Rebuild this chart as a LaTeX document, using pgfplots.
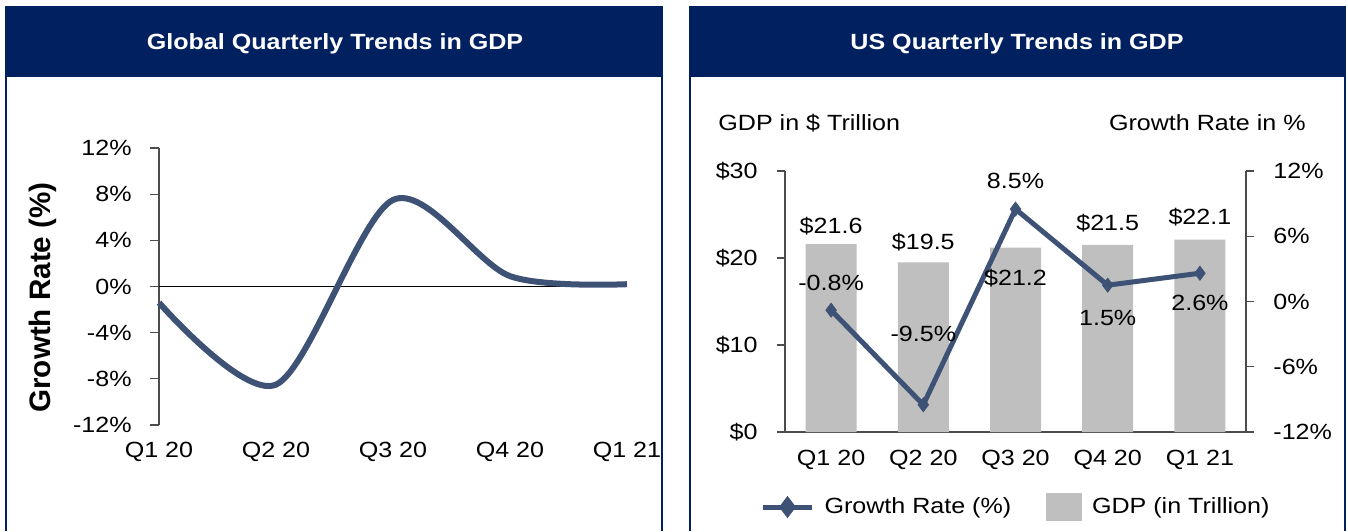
\documentclass[border=0pt]{standalone}
\usepackage{fontspec}
\setmainfont{Liberation Sans}[FakeStretch=1.14]
\newfontfamily\lblfont{Liberation Sans}
\usepackage{pgfplots}
\pgfplotsset{compat=1.18}
\definecolor{navy}{RGB}{0,32,96}
\definecolor{slate}{RGB}{62,82,118}
\definecolor{barg}{RGB}{191,191,191}
\newcommand\fs{\fontsize{11pt}{13pt}\selectfont}

\begin{document}
\begin{tikzpicture}
\useasboundingbox (0,0) rectangle (674pt,265.5pt);
% panel frames
\fill[navy] (2.6pt,227pt) rectangle (331.6pt,262.5pt);
\draw[navy, line width=0.9pt] (3.1pt,227pt) -- (3.1pt,0pt);
\draw[navy, line width=0.9pt] (331.1pt,227pt) -- (331.1pt,0pt);
\fill[navy] (344.4pt,227pt) rectangle (672.8pt,262.5pt);
\draw[navy, line width=0.9pt] (344.9pt,227pt) -- (344.9pt,0pt);
\draw[navy, line width=0.9pt] (672.3pt,227pt) -- (672.3pt,0pt);
\node[white, font=\fs\bfseries, anchor=base, inner sep=0pt] at (167.5pt,240.5pt) {Global Quarterly Trends in GDP};
\node[white, font=\fs\bfseries, anchor=base, inner sep=0pt] at (508.5pt,240.5pt) {US Quarterly Trends in GDP};
\node[font=\fs, anchor=base west, inner sep=0pt] at (359pt,200pt) {GDP in \$ Trillion};
\node[font=\fs, anchor=base east, inner sep=0pt] at (653pt,200pt) {Growth Rate in \%};
\node[rotate=90, font=\lblfont\bfseries\fontsize{14.8pt}{16pt}\selectfont, inner sep=0pt] at (21.5pt,116.75pt) {Growth Rate (\%)};

% ---------- left chart ----------
\begin{axis}[
  at={(79.5pt,53pt)}, anchor=south west, scale only axis,
  width=234pt, height=138.5pt,
  xmin=0, xmax=4, ymin=-12, ymax=12, clip=false,
  axis x line*=bottom, axis y line*=left,
  axis line style={-, black!70, line width=0.6pt},
  x axis line style={draw=none},
  xtick={0,1,2,3,4}, xticklabels={Q1 20,Q2 20,Q3 20,Q4 20,Q1 21},
  ytick={-12,-8,-4,0,4,8,12},
  yticklabels={-12\%,-8\%,-4\%,0\%,4\%,8\%,12\%},
  tick align=outside, major tick length=4.5pt,
  tick style={black!70, line width=0.6pt},
  x tick style={draw=none},
  ticklabel style={font=\fs},
  yticklabel style={anchor=east, inner sep=0pt, xshift=-9pt},
  xticklabel style={anchor=north, inner sep=0pt, yshift=-4pt},
]
\draw[black, line width=0.5pt] (axis cs:0,0) -- (axis cs:4,0);
\addplot[slate, line width=3pt, smooth] coordinates {
  (0,-1.4) (1,-8.5) (2,7.5) (3,0.9) (4,0.2)
};
\end{axis}

% ---------- right chart: bars ----------
\begin{axis}[
  at={(392.5pt,49.5pt)}, anchor=south west, scale only axis,
  width=230.5pt, height=130.5pt,
  xmin=-0.5, xmax=4.5, ymin=0, ymax=30, clip=false,
  axis x line*=bottom, axis y line*=left,
  axis line style={-, black!70, line width=0.6pt},
  xtick={0,1,2,3,4}, xticklabels={Q1 20,Q2 20,Q3 20,Q4 20,Q1 21},
  ytick={0,10,20,30}, yticklabels={\$0,\$10,\$20,\$30},
  tick align=outside, major tick length=4pt,
  tick style={black!70, line width=0.6pt},
  x tick style={draw=none},
  ticklabel style={font=\fs},
  yticklabel style={anchor=east, inner sep=0pt, xshift=-9.5pt},
  xticklabel style={anchor=north, inner sep=0pt, yshift=-5pt},
  ybar, bar width=25.5pt,
]
\addplot[fill=barg, draw=none] coordinates {
  (0,21.6) (1,19.5) (2,21.2) (3,21.5) (4,22.1)
};
\end{axis}

% ---------- right chart: growth line ----------
\begin{axis}[
  at={(392.5pt,49.5pt)}, anchor=south west, scale only axis,
  width=230.5pt, height=130.5pt,
  xmin=-0.5, xmax=4.5, ymin=-12, ymax=12, clip=false,
  axis y line*=right, axis x line=none,
  axis line style={-, black!70, line width=0.6pt},
  xtick=\empty,
  ytick={-12,-6,0,6,12}, yticklabels={-12\%,-6\%,0\%,6\%,12\%},
  tick align=outside, major tick length=3.75pt,
  tick style={black!70, line width=0.6pt},
  ticklabel style={font=\fs},
  yticklabel style={anchor=west, inner sep=0pt, xshift=9.75pt},
  legend style={at={(0.4989,-0.2874)}, anchor=center, draw=none, fill=none,
    font=\fs, legend columns=2, inner sep=0pt, nodes={inner sep=0pt},
    /tikz/every odd column/.append style={column sep=5pt},
    /tikz/every even column/.append style={column sep=17.5pt}},
]
\addplot[slate, line width=2.5pt, mark=diamond*, mark size=3.5pt,
  mark options={solid, line width=0.4pt, fill=slate},
  legend image code/.code={
    \draw[slate, line width=2.5pt] (0pt,0pt) -- (24.5pt,0pt);
    \fill[slate] (12.25pt,3.5pt) -- (14.9pt,0pt) -- (12.25pt,-3.5pt) -- (9.6pt,0pt) -- cycle;}
] coordinates {
  (0,-0.8) (1,-9.5) (2,8.5) (3,1.5) (4,2.6)
};
\addlegendentry{Growth Rate (\%)}
\addlegendimage{legend image code/.code={\fill[barg] (0pt,-6.75pt) rectangle (17.5pt,6.75pt);}}
\addlegendentry{GDP (in Trillion)}
% data labels (bars, in this axis' units so that they lie on top)
\node[font=\fs] at (axis cs:0,6.9) {\$21.6};
\node[font=\fs] at (axis cs:1,5.43) {\$19.5};
\node[font=\fs] at (axis cs:2,2.11) {\$21.2};
\node[font=\fs] at (axis cs:3,7.17) {\$21.5};
\node[font=\fs] at (axis cs:4,7.72) {\$22.1};
% data labels (growth)
\node[font=\fs] at (axis cs:0,1.75) {-0.8\%};
\node[font=\fs] at (axis cs:1,-2.94) {-9.5\%};
\node[font=\fs] at (axis cs:2,11.13) {8.5\%};
\node[font=\fs] at (axis cs:3,-1.47) {1.5\%};
\node[font=\fs] at (axis cs:4,-0.09) {2.6\%};
\end{axis}
\end{tikzpicture}
\end{document}
